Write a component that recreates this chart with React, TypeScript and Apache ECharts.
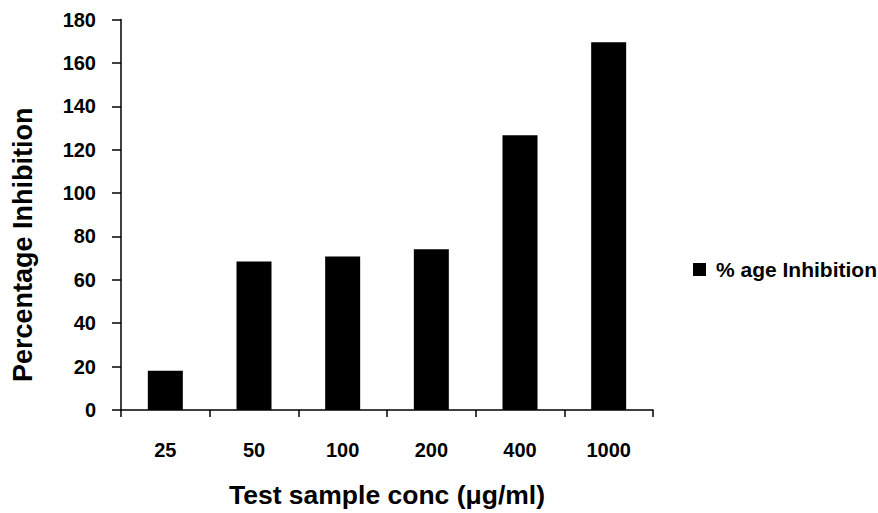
import React, { useEffect, useRef } from "react";
import * as echarts from "echarts";

const categories = ["25", "50", "100", "200", "400", "1000"];
const inhibition = [18.1, 68.4, 70.7, 74.1, 126.6, 169.5];
const seriesName = "% age Inhibition";
const yAxisTitle = "Percentage Inhibition";
const xAxisTitle = "Test sample conc (μg/ml)";

const FONT = "'Liberation Sans', Arial, Helvetica, sans-serif";

export default function App() {
  const ref = useRef<HTMLDivElement>(null);
  useEffect(() => {
    if (!ref.current) return;
    const chart = echarts.init(ref.current, undefined, { renderer: "svg" });
    chart.setOption({
      animation: false,
      backgroundColor: "#ffffff",
      textStyle: { fontFamily: FONT },
      grid: { left: 121, right: 225, top: 19.5, bottom: 103, containLabel: false },
      legend: {
        left: 688,
        top: 254,
        orient: "vertical",
        icon: "rect",
        itemWidth: 13,
        itemHeight: 13,
        data: [seriesName],
        textStyle: {
          fontFamily: FONT,
          fontWeight: "bold",
          fontSize: 21,
          color: "#000",
          padding: [0, 0, 0, 5],
        },
      },
      xAxis: {
        type: "category",
        data: categories,
        boundaryGap: true,
        name: xAxisTitle,
        nameLocation: "middle",
        nameGap: 71,
        nameTextStyle: { fontFamily: FONT, fontWeight: "bold", fontSize: 26.5, color: "#000" },
        axisLine: { lineStyle: { color: "#000", width: 1.5 } },
        axisTick: { show: true, inside: false, length: 7, alignWithLabel: false, lineStyle: { color: "#000", width: 1.5 } },
        axisLabel: { margin: 30, fontFamily: FONT, fontWeight: "bold", fontSize: 20, color: "#000" },
        splitLine: { show: false },
      },
      yAxis: {
        type: "value",
        min: 0,
        max: 180,
        interval: 20,
        name: yAxisTitle,
        nameLocation: "middle",
        nameGap: 85,
        nameRotate: 90,
        nameTextStyle: {
          fontFamily: FONT,
          fontWeight: "bold",
          fontSize: 27,
          color: "#000",
          padding: [0, 60, 0, 0],
        },
        axisLine: { show: true, lineStyle: { color: "#000", width: 1.5 } },
        axisTick: { show: true, inside: false, length: 9, lineStyle: { color: "#000", width: 1.5 } },
        axisLabel: { margin: 25, fontFamily: FONT, fontWeight: "bold", fontSize: 20, color: "#000" },
        splitLine: { show: false },
      },
      series: [
        {
          name: seriesName,
          type: "bar",
          data: inhibition,
          barWidth: 35,
          itemStyle: { color: "#000000" },
        },
      ],
    });
    return () => chart.dispose();
  }, []);
  return (
    <div
      ref={ref}
      style={{ position: "fixed", left: 0, top: 0, width: 878, height: 513, background: "#fff" }}
    />
  );
}
